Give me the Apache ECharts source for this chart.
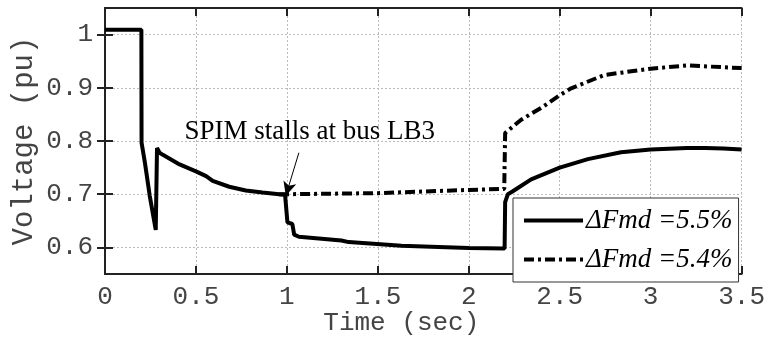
<!DOCTYPE html>
<html>
<head>
<meta charset="utf-8">
<script src="https://cdn.jsdelivr.net/npm/echarts@6/dist/echarts.min.js"></script>
<style>html,body{margin:0;padding:0;background:#fff;}#c{width:768px;height:354px;}</style>
</head>
<body>
<div id="c"></div>
<script>
// Data
var seriesNames = ['\u0394Fmd =5.5%', '\u0394Fmd =5.4%'];
var t55 = [0, 0.2, 0.201, 0.22, 0.246, 0.279, 0.286, 0.30, 0.318, 0.41, 0.50, 0.556, 0.592, 0.683, 0.774, 0.866, 0.957, 0.99, 1.003, 1.03, 1.04, 1.066, 1.30, 1.34, 1.63, 2.0, 2.197, 2.2, 2.215, 2.24, 2.343, 2.5, 2.655, 2.837, 3.0, 3.2, 3.3, 3.4, 3.5];
var v55 = [1.009, 1.009, 0.797, 0.758, 0.697, 0.633, 0.787, 0.778, 0.774, 0.756, 0.743, 0.734, 0.725, 0.714, 0.707, 0.703, 0.700, 0.699, 0.647, 0.644, 0.624, 0.620, 0.613, 0.610, 0.603, 0.599, 0.598, 0.685, 0.700, 0.705, 0.728, 0.750, 0.766, 0.779, 0.784, 0.787, 0.787, 0.786, 0.784];
var t54 = [0.957, 1.0, 1.5, 2.0, 2.195, 2.2, 2.288, 2.397, 2.5, 2.563, 2.745, 3.0, 3.2, 3.5];
var v54 = [0.700, 0.700, 0.702, 0.708, 0.710, 0.815, 0.840, 0.862, 0.886, 0.899, 0.924, 0.936, 0.942, 0.937];
var xTicks = [0, 0.5, 1, 1.5, 2, 2.5, 3, 3.5];
var yTicks = [0.6, 0.7, 0.8, 0.9, 1];
var annotationText = 'SPIM stalls at bus LB3';
var annotationAt = [0.4375, 0.818];
var arrowFrom = [1.066, 0.778];
var arrowTo = [0.994, 0.697];

function pairs(t, v) { return t.map(function (x, i) { return [x, v[i]]; }); }

var monoFont = 'Liberation Mono';
var labelColor = '#444';
var axisColor = '#222';
var gridStyle = { color: '#bbb', type: [2, 2], width: 1 };

var chart = echarts.init(document.getElementById('c'));
chart.setOption({
  animation: false,
  backgroundColor: '#fff',
  grid: { left: 105, right: 23, top: 8, bottom: 80 },
  xAxis: [{
    type: 'value', min: 0, max: 3.5, interval: 0.5, position: 'bottom',
    axisLine: { lineStyle: { color: axisColor, width: 2 } },
    axisTick: { inside: true, length: 8, lineStyle: { color: axisColor, width: 2 } },
    axisLabel: { color: labelColor, fontFamily: monoFont, fontSize: 26, margin: 10,
      formatter: function (v) { return String(v); } },
    splitLine: { show: true, lineStyle: gridStyle },
    name: 'Time (sec)', nameLocation: 'middle', nameGap: 36, nameMoveOverlap: false,
    nameTextStyle: { color: labelColor, fontFamily: monoFont, fontSize: 26, padding: [0, 44, 0, 0] }
  }, {
    type: 'value', min: 0, max: 3.5, interval: 0.5, position: 'top',
    axisLine: { lineStyle: { color: axisColor, width: 2 } },
    axisTick: { inside: true, length: 8, lineStyle: { color: axisColor, width: 2 } },
    axisLabel: { show: false }, splitLine: { show: false }
  }],
  yAxis: [{
    type: 'value', min: 0.55, max: 1.05, position: 'left',
    axisLine: { show: true, lineStyle: { color: axisColor, width: 2 } },
    axisTick: { show: true, inside: true, length: 8, customValues: yTicks, lineStyle: { color: axisColor, width: 2 } },
    axisLabel: { color: labelColor, fontFamily: monoFont, fontSize: 26, margin: 12, customValues: yTicks,
      formatter: function (v) { return String(v); } },
    splitLine: { show: true, customValues: yTicks, lineStyle: gridStyle },
    name: 'Voltage (pu)', nameLocation: 'middle', nameGap: 66, nameRotate: 90, nameMoveOverlap: false,
    nameTextStyle: { color: labelColor, fontFamily: monoFont, fontSize: 29 }
  }, {
    type: 'value', min: 0.55, max: 1.05, position: 'right',
    axisLine: { show: true, lineStyle: { color: axisColor, width: 2 } },
    axisTick: { show: true, inside: true, length: 8, customValues: yTicks, lineStyle: { color: axisColor, width: 2 } },
    axisLabel: { show: false }, splitLine: { show: false }
  }],
  legend: {
    orient: 'vertical', left: 513, top: 198,
    padding: [9, 6, 9, 9], itemGap: 12, itemWidth: 59, itemHeight: 16,
    backgroundColor: '#fff', borderColor: '#333', borderWidth: 1,
    itemStyle: { opacity: 0 },
    lineStyle: { width: 4 },
    textStyle: { fontFamily: 'Liberation Serif', fontStyle: 'italic', fontSize: 27, color: '#000', padding: [0, 0, 0, -2] },
    data: seriesNames
  },
  series: [{
    name: seriesNames[1], type: 'line', data: pairs(t54, v54), symbol: 'none',
    lineStyle: { color: '#000', width: 4, type: [10, 4, 3, 4] }, itemStyle: { color: '#000' }, z: 2
  }, {
    name: seriesNames[0], type: 'line', data: pairs(t55, v55), symbol: 'none',
    lineStyle: { color: '#000', width: 4, type: 'solid' }, itemStyle: { color: '#000' }, z: 3,
    markLine: {
      silent: true, symbol: ['none', 'arrow'], symbolSize: [10, 14],
      label: { show: false },
      lineStyle: { color: '#000', width: 1, type: 'solid' },
      data: [[{ coord: arrowFrom }, { coord: arrowTo }]]
    },
    markPoint: {
      silent: true, symbol: 'circle', symbolSize: 0,
      label: { show: true, position: 'right', distance: 0, formatter: annotationText,
        fontFamily: 'Liberation Serif', fontSize: 27, color: '#000' },
      data: [{ coord: annotationAt }]
    }
  }]
});
</script>
</body>
</html>
